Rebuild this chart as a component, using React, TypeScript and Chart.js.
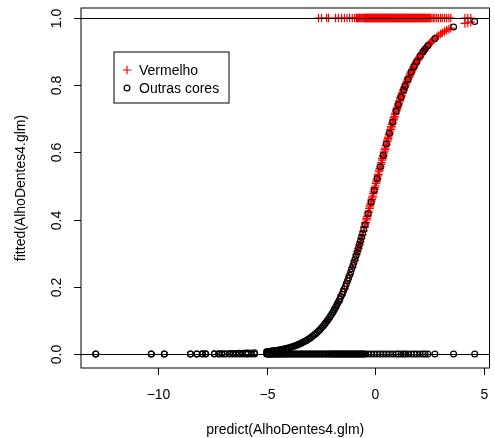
import React, { useEffect, useRef } from 'react';
import { Chart, registerables } from 'chart.js';

Chart.register(...registerables);

// ---- data ----
// Vermelho (observed response = 1)
const vermelhoPredict = [
  -2.61, -2.47, -2.24, -2.15, -1.83, -1.70, -1.55, -1.42, -1.30, -1.18, -1.06, -0.95,
  -0.87, -0.82, -0.78, -0.73, -0.69, -0.64, -0.60, -0.55, -0.50, -0.46, -0.41, -0.37, -0.32, -0.27, -0.23, -0.18, -0.14, -0.09, -0.04, 0.00,
  0.05, 0.09, 0.14, 0.19, 0.23, 0.28, 0.33, 0.37, 0.42, 0.46, 0.51, 0.56, 0.60, 0.65, 0.70, 0.74, 0.79, 0.84, 0.88, 0.93, 0.98,
  1.02, 1.07, 1.12, 1.17, 1.21, 1.26, 1.31, 1.36, 1.41, 1.46, 1.51, 1.56, 1.61, 1.66, 1.71, 1.76, 1.82, 1.87, 1.92, 1.98,
  2.03, 2.09, 2.15, 2.21, 2.27, 2.33, 2.39, 2.46, 2.53, 2.60, 2.67, 2.74,
  2.82, 2.90, 3.00, 3.08, 3.18, 3.28, 3.38, 3.47, 4.12, 4.25, 4.39,
  -0.49, -0.44, -0.39, -0.35, -0.30, -0.25, -0.21, -0.16, -0.12, -0.07, -0.02,
  0.03, 0.07, 0.12, 0.17, 0.21, 0.26, 0.31, 0.35, 0.40, 0.44, 0.49,
  0.54, 0.58, 0.63, 0.68, 0.72, 0.77, 0.82, 0.86, 0.91, 0.96,
  1.00, 1.05, 1.10, 1.15, 1.19, 1.24, 1.29, 1.34, 1.39, 1.44,
  1.49, 1.54, 1.59, 1.64, 1.69, 1.74, 1.79, 1.85, 1.90, 1.95,
  2.01, 2.06, 2.12, 2.18, 2.24, 2.30, 2.36, 2.43, 2.50,
];
const vermelhoFitted = [
  0.0685, 0.0781, 0.0963, 0.1045, 0.1384, 0.1545, 0.1752, 0.1947, 0.2142, 0.2351, 0.2574, 0.2790,
  0.2954, 0.3058, 0.3144, 0.3253, 0.3341, 0.3453, 0.3543, 0.3659, 0.3775, 0.3870, 0.3989, 0.4086, 0.4207, 0.4330, 0.4428, 0.4551, 0.4651, 0.4775, 0.4900, 0.5000,
  0.5125, 0.5225, 0.5349, 0.5474, 0.5572, 0.5695, 0.5817, 0.5914, 0.6035, 0.6130, 0.6248, 0.6364, 0.6457, 0.6569, 0.6682, 0.6769, 0.6878, 0.6984, 0.7067, 0.7170, 0.7271,
  0.7349, 0.7445, 0.7539, 0.7630, 0.7702, 0.7789, 0.7874, 0.7956, 0.8037, 0.8114, 0.8190, 0.8262, 0.8333, 0.8401, 0.8468, 0.8531, 0.8605, 0.8664, 0.8721, 0.8786,
  0.8838, 0.8899, 0.8955, 0.9011, 0.9063, 0.9113, 0.9160, 0.9212, 0.9261, 0.9309, 0.9352, 0.9393,
  0.9437, 0.9478, 0.9526, 0.9560, 0.9600, 0.9637, 0.9670, 0.9698, 0.9840, 0.9859, 0.9878,
  0.3799, 0.3918, 0.4037, 0.4134, 0.4256, 0.4379, 0.4477, 0.4601, 0.4700, 0.4825, 0.4950,
  0.5075, 0.5175, 0.5300, 0.5424, 0.5523, 0.5646, 0.5768, 0.5866, 0.5987, 0.6082, 0.6201,
  0.6318, 0.6411, 0.6524, 0.6637, 0.6726, 0.6835, 0.6942, 0.7025, 0.7129, 0.7230,
  0.7311, 0.7407, 0.7503, 0.7594, 0.7667, 0.7754, 0.7841, 0.7924, 0.8006, 0.8084,
  0.8161, 0.8234, 0.8306, 0.8374, 0.8441, 0.8505, 0.8568, 0.8640, 0.8699, 0.8753,
  0.8818, 0.8869, 0.8928, 0.8983, 0.9037, 0.9089, 0.9136, 0.9190, 0.9241,
];
const vermelhoObserved = 1;

// Outras cores (observed response = 0)
const outrasPredict = [
  -12.85, -10.30, -9.70, -8.50, -8.20, -7.95, -7.80, -7.40, -7.20, -7.05, -6.90, -6.70, -6.55, -6.40, -6.25, -6.10, -5.95, -5.85, -5.70, -5.55,
  -5.00, -4.97, -4.93, -4.90, -4.86, -4.82, -4.78, -4.75, -4.71, -4.67, -4.63, -4.58, -4.54, -4.50, -4.45, -4.40, -4.35, -4.30, -4.25, -4.20, -4.14, -4.08,
  -4.02, -3.95, -3.88, -3.82, -3.75, -3.68, -3.61, -3.55, -3.48, -3.41, -3.35, -3.28, -3.21, -3.15, -3.08, -3.01, -2.95, -2.88, -2.81, -2.75, -2.68, -2.61, -2.55, -2.48, -2.42, -2.35, -2.29, -2.22, -2.16, -2.10, -2.04,
  -1.98, -1.93, -1.88, -1.83, -1.78, -1.73, -1.68, -1.63, -1.58, -1.53, -1.48, -1.43, -1.38, -1.33, -1.28, -1.23, -1.18, -1.13, -1.08, -1.03, -0.98, -0.93, -0.88, -0.83, -0.78, -0.73, -0.68, -0.63, -0.58, -0.53,
  -0.47, -0.33, -0.19, -0.05, 0.09, 0.23, 0.37, 0.51, 0.65, 0.80, 0.96,
  1.06, 1.18, 1.30, 1.37, 1.50, 1.65, 1.78, 1.90, 2.06,
  2.20, 2.29, 2.42, 2.74, 3.60, 4.57,
];
const outrasFitted = [
  0.0000, 0.0000, 0.0001, 0.0002, 0.0003, 0.0004, 0.0004, 0.0006, 0.0007, 0.0009, 0.0010, 0.0012, 0.0014, 0.0017, 0.0019, 0.0022, 0.0026, 0.0029, 0.0033, 0.0039,
  0.0067, 0.0069, 0.0072, 0.0074, 0.0077, 0.0080, 0.0084, 0.0086, 0.0089, 0.0093, 0.0096, 0.0101, 0.0106, 0.0110, 0.0115, 0.0121, 0.0127, 0.0134, 0.0141, 0.0148, 0.0157, 0.0166,
  0.0177, 0.0189, 0.0202, 0.0215, 0.0230, 0.0246, 0.0263, 0.0280, 0.0299, 0.0320, 0.0340, 0.0363, 0.0388, 0.0412, 0.0440, 0.0470, 0.0498, 0.0532, 0.0568, 0.0602, 0.0642, 0.0685, 0.0725, 0.0774, 0.0817, 0.0872, 0.0920, 0.0981, 0.1035, 0.1091, 0.1152,
  0.1214, 0.1268, 0.1325, 0.1384, 0.1444, 0.1507, 0.1572, 0.1640, 0.1709, 0.1781, 0.1855, 0.1932, 0.2011, 0.2093, 0.2177, 0.2263, 0.2351, 0.2442, 0.2535, 0.2631, 0.2729, 0.2830, 0.2933, 0.3037, 0.3144, 0.3253, 0.3363, 0.3476, 0.3589, 0.3705,
  0.3846, 0.4183, 0.4526, 0.4875, 0.5225, 0.5572, 0.5914, 0.6248, 0.6569, 0.6900, 0.7230,
  0.7426, 0.7649, 0.7858, 0.7973, 0.8176, 0.8387, 0.8556, 0.8699, 0.8869,
  0.9002, 0.9080, 0.9183, 0.9393, 0.9734, 0.9898,
];
const outrasObserved = 0;

const xTicks = [-10, -5, 0, 5];
const xTickLabels = ['\u221210', '\u22125', '0', '5'];
const yTicks = [0, 0.2, 0.4, 0.6, 0.8, 1.0];
const yTickLabels = ['0.0', '0.2', '0.4', '0.6', '0.8', '1.0'];
const refLines = [0, 1];
const legendLabels = ['Vermelho', 'Outras cores'];
const xTitle = 'predict(AlhoDentes4.glm)';
const yTitle = 'fitted(AlhoDentes4.glm)';

const X_MIN = -13.53;
const X_MAX = 5.25;
const Y_MIN = -0.0417;
const Y_MAX = 1.0298;

const RED = '#FF0000';
const BLACK = '#000000';
const FONT = "14px 'Liberation Sans', Arial, Helvetica, sans-serif";
const CROSS_R = 4.3;
const CIRCLE_R = 2.9;
const MARK_W = 1.2;

function pairs(xs: number[], ys: number[]) {
  const n = Math.min(xs.length, ys.length);
  const out: { x: number; y: number }[] = [];
  for (let i = 0; i < n; i++) out.push({ x: xs[i], y: ys[i] });
  return out;
}

const rBasePlot = {
  id: 'rBasePlot',
  afterDatasetsDraw(chart: any) {
    const { ctx, chartArea: a, scales } = chart;
    const y = scales.y;
    ctx.save();
    ctx.strokeStyle = BLACK;
    ctx.lineWidth = 1;
    for (const h of refLines) {
      const py = Math.round(y.getPixelForValue(h)) + 0.5;
      ctx.beginPath();
      ctx.moveTo(a.left, py);
      ctx.lineTo(a.right, py);
      ctx.stroke();
    }
    ctx.restore();
  },
  afterDraw(chart: any) {
    const { ctx, chartArea: a, scales } = chart;
    const x = scales.x;
    const y = scales.y;
    ctx.save();
    ctx.strokeStyle = BLACK;
    ctx.fillStyle = BLACK;
    ctx.lineWidth = 1;

    ctx.strokeRect(a.left, a.top, a.right - a.left, a.bottom - a.top);

    ctx.font = FONT;
    ctx.textAlign = 'center';
    ctx.textBaseline = 'alphabetic';
    xTicks.forEach((v, i) => {
      const px = Math.round(x.getPixelForValue(v)) + 0.5;
      ctx.beginPath();
      ctx.moveTo(px, a.bottom);
      ctx.lineTo(px, a.bottom + 7);
      ctx.stroke();
      ctx.fillText(xTickLabels[i], px, a.bottom + 31);
    });

    yTicks.forEach((v, i) => {
      const py = Math.round(y.getPixelForValue(v)) + 0.5;
      ctx.beginPath();
      ctx.moveTo(a.left - 7, py);
      ctx.lineTo(a.left, py);
      ctx.stroke();
      ctx.save();
      ctx.translate(a.left - 20, py);
      ctx.rotate(-Math.PI / 2);
      ctx.fillText(yTickLabels[i], 0, 0);
      ctx.restore();
    });

    ctx.fillText(xTitle, (a.left + a.right) / 2, a.bottom + 66);
    ctx.save();
    ctx.translate(25, (a.top + a.bottom) / 2);
    ctx.rotate(-Math.PI / 2);
    ctx.fillText(yTitle, 0, 0);
    ctx.restore();

    // legend
    const lx = a.left + 33;
    const ly = a.top + 44;
    ctx.fillStyle = '#FFFFFF';
    ctx.fillRect(lx, ly, 115, 51);
    ctx.strokeStyle = BLACK;
    ctx.strokeRect(lx, ly, 115, 51);
    const symX = lx + 13;
    const rows = [ly + 18, ly + 36];
    ctx.lineWidth = MARK_W;
    ctx.strokeStyle = RED;
    ctx.beginPath();
    ctx.moveTo(symX - CROSS_R, rows[0]);
    ctx.lineTo(symX + CROSS_R, rows[0]);
    ctx.moveTo(symX, rows[0] - CROSS_R);
    ctx.lineTo(symX, rows[0] + CROSS_R);
    ctx.stroke();
    ctx.strokeStyle = BLACK;
    ctx.beginPath();
    ctx.arc(symX, rows[1], CIRCLE_R, 0, Math.PI * 2);
    ctx.stroke();
    ctx.fillStyle = BLACK;
    ctx.textAlign = 'left';
    legendLabels.forEach((t, i) => {
      ctx.fillText(t, lx + 25, rows[i] + 5);
    });

    ctx.restore();
  },
};

export default function App() {
  const canvasRef = useRef<HTMLCanvasElement | null>(null);

  useEffect(() => {
    const canvas = canvasRef.current;
    if (!canvas) return;
    const chart = new Chart(canvas, {
      type: 'scatter',
      data: {
        datasets: [
          {
            label: 'Outras cores (observado)',
            data: outrasPredict.map((v) => ({ x: v, y: outrasObserved })),
            pointStyle: 'circle',
            pointRadius: CIRCLE_R,
            borderColor: BLACK,
            backgroundColor: 'rgba(0,0,0,0)',
            borderWidth: MARK_W,
          },
          {
            label: 'Outras cores',
            data: pairs(outrasPredict, outrasFitted),
            pointStyle: 'circle',
            pointRadius: CIRCLE_R,
            borderColor: BLACK,
            backgroundColor: 'rgba(0,0,0,0)',
            borderWidth: MARK_W,
          },
          {
            label: 'Vermelho (observado)',
            data: vermelhoPredict.map((v) => ({ x: v, y: vermelhoObserved })),
            pointStyle: 'cross',
            pointRadius: CROSS_R,
            borderColor: RED,
            backgroundColor: RED,
            borderWidth: MARK_W,
          },
          {
            label: 'Vermelho',
            data: pairs(vermelhoPredict, vermelhoFitted),
            pointStyle: 'cross',
            pointRadius: CROSS_R,
            borderColor: RED,
            backgroundColor: RED,
            borderWidth: MARK_W,
          },
        ],
      },
      options: {
        responsive: false,
        maintainAspectRatio: false,
        devicePixelRatio: 1,
        animation: false,
        events: [],
        layout: { padding: { left: 81, right: 3, top: 8, bottom: 70 } },
        scales: {
          x: { type: 'linear', min: X_MIN, max: X_MAX, display: false },
          y: { type: 'linear', min: Y_MIN, max: Y_MAX, display: false },
        },
        plugins: {
          legend: { display: false },
          tooltip: { enabled: false },
          title: { display: false },
        },
      },
      plugins: [rBasePlot],
    });
    return () => chart.destroy();
  }, []);

  return (
    <div style={{ position: 'absolute', left: 0, top: 0, width: 495, height: 438, background: '#FFFFFF' }}>
      <canvas ref={canvasRef} width={495} height={438} style={{ display: 'block', width: 495, height: 438 }} />
    </div>
  );
}
